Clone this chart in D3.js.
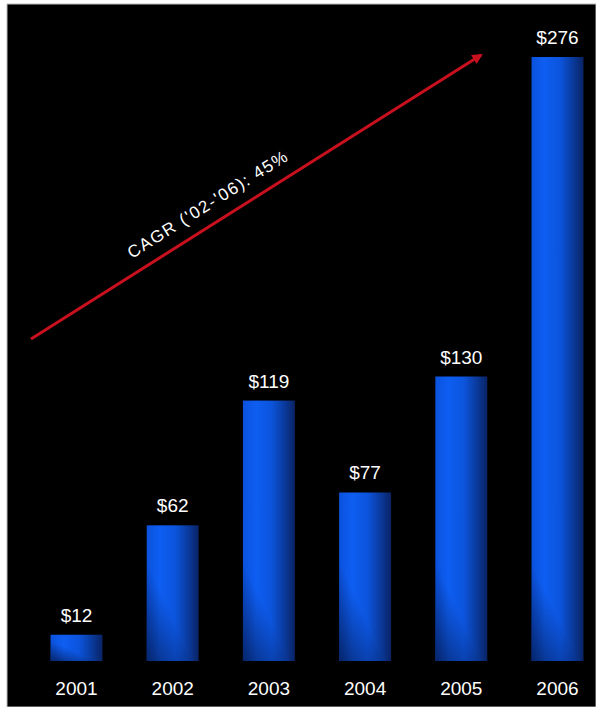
<!DOCTYPE html>
<html><head><meta charset="utf-8">
<script src="https://cdn.jsdelivr.net/npm/d3@7"></script>
<style>html,body{margin:0;padding:0;background:#fff;}svg{display:block;}</style>
</head><body>
<script>
const years = ["2001","2002","2003","2004","2005","2006"];
const revenue = [12, 62, 119, 77, 130, 276];
const valueLabels = ["$12","$62","$119","$77","$130","$276"];
const cagrLabel = "CAGR ('02-'06): 45%";

const W = 596, H = 707;
const svg = d3.select("body").append("svg").attr("width", W).attr("height", H);

svg.append("rect").attr("x", 0).attr("y", 0).attr("width", W).attr("height", H).attr("fill", "#fff");
svg.append("rect").attr("x", 7).attr("y", 4).attr("width", W - 7).attr("height", H - 4)
  .attr("fill", "#000").attr("stroke", "#bbb").attr("stroke-width", 1);

const defs = svg.append("defs");
const g = defs.append("linearGradient").attr("id", "barGrad")
  .attr("x1", 0).attr("y1", 0).attr("x2", 1).attr("y2", 0);
g.append("stop").attr("offset", "0%").attr("stop-color", "#0b52dc");
g.append("stop").attr("offset", "25%").attr("stop-color", "#0e5ef2");
g.append("stop").attr("offset", "55%").attr("stop-color", "#0c54dc");
g.append("stop").attr("offset", "80%").attr("stop-color", "#0a3a9c");
g.append("stop").attr("offset", "100%").attr("stop-color", "#0a2364");

const g2 = defs.append("linearGradient").attr("id", "shadeGrad")
  .attr("x1", 0).attr("y1", 1).attr("x2", 0.7).attr("y2", 0.2);
g2.append("stop").attr("offset", "0%").attr("stop-color", "#04113a").attr("stop-opacity", 0.7);
g2.append("stop").attr("offset", "55%").attr("stop-color", "#04113a").attr("stop-opacity", 0);

const x = d3.scaleBand().domain(years).range([28.4, 605.6]).paddingInner(0.46).paddingOuter(0.23);
const y = d3.scaleLinear().domain([0, 276]).range([661, 57]);

const data = years.map((yr, i) => ({yr, v: revenue[i], lab: valueLabels[i]}));

svg.selectAll("rect.bar").data(data).join("rect").attr("class", "bar")
  .attr("x", d => x(d.yr)).attr("width", x.bandwidth())
  .attr("y", d => y(d.v)).attr("height", d => y(0) - y(d.v))
  .attr("fill", "url(#barGrad)");

// lower-left shading
const shadeH = d => Math.min(y(0) - y(d.v), 130);
svg.selectAll("rect.shade").data(data).join("rect").attr("class", "shade")
  .attr("x", d => x(d.yr)).attr("width", x.bandwidth())
  .attr("y", d => y(0) - shadeH(d)).attr("height", shadeH)
  .attr("fill", "url(#shadeGrad)");

svg.selectAll("text.val").data(data).join("text").attr("class", "val")
  .attr("x", d => x(d.yr) + x.bandwidth() / 2)
  .attr("y", d => y(d.v) - 13)
  .attr("text-anchor", "middle").attr("fill", "#fff")
  .attr("font-family", "Liberation Sans, Arial, sans-serif").attr("font-size", 19)
  .text(d => d.lab);

const xAxis = svg.append("g").attr("transform", `translate(0,${y(0)})`)
  .call(d3.axisBottom(x).tickSize(0).tickPadding(21));
xAxis.select(".domain").remove();
xAxis.selectAll("text").attr("fill", "#fff")
  .attr("font-family", "Liberation Sans, Arial, sans-serif").attr("font-size", 19);

// CAGR arrow
const ax0 = 31, ay0 = 339, ax1 = 487, ay1 = 51;
defs.append("marker").attr("id", "ah").attr("viewBox", "0 0 10 10")
  .attr("refX", 8).attr("refY", 5).attr("markerWidth", 4.5).attr("markerHeight", 3.5)
  .attr("markerUnits", "strokeWidth").attr("orient", "auto")
  .append("path").attr("d", "M0,0 L10,5 L0,10 Z").attr("fill", "#c8101e");
svg.append("line").attr("x1", ax0).attr("y1", ay0).attr("x2", ax1 - 6).attr("y2", ay1 + 4)
  .attr("stroke", "#c8101e").attr("stroke-width", 3).attr("marker-end", "url(#ah)");

const ang = Math.atan2(ay1 - ay0, ax1 - ax0) * 180 / Math.PI;
svg.append("text")
  .attr("transform", `translate(211,209) rotate(${ang})`)
  .attr("text-anchor", "middle").attr("fill", "#fff")
  .attr("font-family", "Liberation Sans, Arial, sans-serif").attr("font-size", 17)
  .attr("letter-spacing", 1.5)
  .text(cagrLabel);
</script>
</body></html>
